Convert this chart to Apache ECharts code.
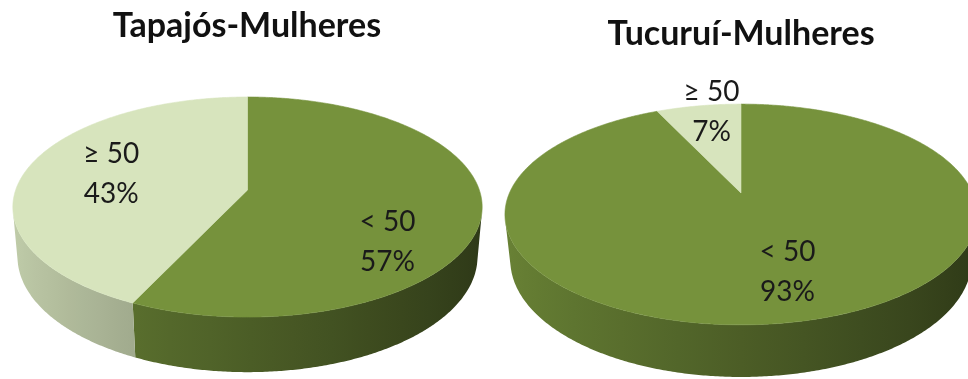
<!DOCTYPE html>
<html>
<head>
<meta charset="utf-8">
<script src="https://cdn.jsdelivr.net/npm/echarts@6/dist/echarts.min.js"></script>
<style>
  html, body { margin: 0; padding: 0; background: #ffffff; }
  #chart { width: 968px; height: 379px; }
</style>
</head>
<body>
<div id="chart"></div>
<script>
// Age groups and share of women in each group
const categories = ['< 50', '≥ 50'];
const tapajosValues = [57, 43];
const tucuruiValues = [93, 7];
const pieTitles = ['Tapajós-Mulheres', 'Tucuruí-Mulheres'];
const sliceColors = ['#76923C', '#D7E4BD'];

// Perspective view of each disc: screen centre, focal scale, camera distance,
// tilt (deg), disc thickness, and where each slice label sits on the top face.
const views = [
  { cx: 247.5, cy: 190, k: 1326, dist: 5.72, tilt: 27.6, thick: 0.244,
    labelR: [0.606, 0.615], labelShift: [[0, 37], [0, -2]] },
  { cx: 741, cy: 193, k: 1057, dist: 4.565, tilt: 27.3, thick: 0.224,
    labelR: [0.666, 0.918], labelShift: [[8, 0], [10, 0]] }
];

function hexToRgb(hex) {
  const n = parseInt(hex.slice(1), 16);
  return [(n >> 16) & 255, (n >> 8) & 255, n & 255];
}
function shadeColor(hex, f) {
  const c = hexToRgb(hex).map(v => Math.max(0, Math.min(255, Math.round(v * f))));
  return 'rgb(' + c.join(',') + ')';
}
// brightness of the rim, lit from the front-left
function rimLight(th) {
  return 0.64 - 0.26 * Math.sin(th);
}

// angle th is measured clockwise from 12 o'clock, r is radius (0..1), y is height (0 = top face)
function project(v, th, r, y) {
  const t = v.tilt * Math.PI / 180;
  const s = Math.sin(t), c = Math.cos(t);
  const X = r * Math.sin(th);
  const Z = -r * Math.cos(th);
  const d = v.dist - (y * s + Z * c);
  return [v.cx + v.k * X / d, v.cy + v.k * (Z * s - y * c) / d];
}

function makeRenderer(values, v) {
  const total = values.reduce((a, b) => a + b, 0);
  const t = v.tilt * Math.PI / 180;
  const thLo = Math.acos(-1 / (v.dist * Math.cos(t)));
  const thHi = 2 * Math.PI - thLo;
  const step = Math.PI / 360;

  return function (params, api) {
    const i = params.dataIndex;
    const val = api.value(0);
    let before = 0;
    for (let j = 0; j < i; j++) before += values[j];
    const a0 = before / total * 2 * Math.PI;
    const a1 = (before + val) / total * 2 * Math.PI;
    const base = sliceColors[i];
    const children = [];

    // visible part of the rim
    const lo = Math.max(a0, thLo), hi = Math.min(a1, thHi);
    if (hi > lo) {
      const n = Math.max(2, Math.ceil((hi - lo) / step));
      const topPts = [], botPts = [];
      for (let k = 0; k <= n; k++) {
        const th = lo + (hi - lo) * k / n;
        topPts.push(project(v, th, 1, 0));
        botPts.push(project(v, th, 1, -v.thick));
      }
      const xs = topPts.map(p => p[0]).concat(botPts.map(p => p[0]));
      const xmin = Math.min.apply(null, xs), xmax = Math.max.apply(null, xs);
      const stops = [];
      for (let k = 0; k <= 12; k++) {
        const th = lo + (hi - lo) * k / 12;
        const p = project(v, th, 1, 0);
        stops.push({ offset: Math.max(0, Math.min(1, (p[0] - xmin) / (xmax - xmin || 1))),
                     color: shadeColor(base, rimLight(th)) });
      }
      stops.sort((a, b) => a.offset - b.offset);
      const poly = topPts.concat(botPts.slice().reverse());
      children.push({
        type: 'polygon',
        z2: 1,
        shape: { points: poly },
        style: {
          fill: { type: 'linear', x: xmin, y: 0, x2: xmax, y2: 0, global: true, colorStops: stops },
          stroke: null
        }
      });
    }

    // top face
    const face = [project(v, 0, 0, 0)];
    const m = Math.max(2, Math.ceil((a1 - a0) / step));
    for (let k = 0; k <= m; k++) face.push(project(v, a0 + (a1 - a0) * k / m, 1, 0));
    children.push({
      type: 'polygon',
      z2: 5,
      shape: { points: face },
      style: { fill: base, stroke: base, lineWidth: 0.6 }
    });

    // slice label
    const mid = (a0 + a1) / 2;
    const lp = project(v, mid, v.labelR[i], 0);
    children.push({
      type: 'text',
      z2: 10,
      x: lp[0] + v.labelShift[i][0],
      y: lp[1] + v.labelShift[i][1],
      style: {
        text: categories[i] + '\n' + Math.round(val / total * 100) + '%',
        fill: '#1a1a1a',
        fontFamily: 'Lato',
        fontSize: 28,
        lineHeight: 40,
        align: 'center',
        verticalAlign: 'middle',
        textAlign: 'center',
        textVerticalAlign: 'middle'
      }
    });

    return { type: 'group', children: children };
  };
}

const chart = echarts.init(document.getElementById('chart'), null, { renderer: 'canvas' });
chart.setOption({
  backgroundColor: '#ffffff',
  animation: false,
  title: [
    { text: pieTitles[0], left: 242, top: 4, textAlign: 'center',
      textStyle: { fontFamily: 'Lato', fontWeight: 'bold', fontSize: 34, color: '#111111' } },
    { text: pieTitles[1], left: 736, top: 12, textAlign: 'center',
      textStyle: { fontFamily: 'Lato', fontWeight: 'bold', fontSize: 34, color: '#111111' } }
  ],
  series: [
    { type: 'custom', name: pieTitles[0], coordinateSystem: 'none',
      renderItem: makeRenderer(tapajosValues, views[0]), data: tapajosValues },
    { type: 'custom', name: pieTitles[1], coordinateSystem: 'none',
      renderItem: makeRenderer(tucuruiValues, views[1]), data: tucuruiValues }
  ]
});
</script>
</body>
</html>
